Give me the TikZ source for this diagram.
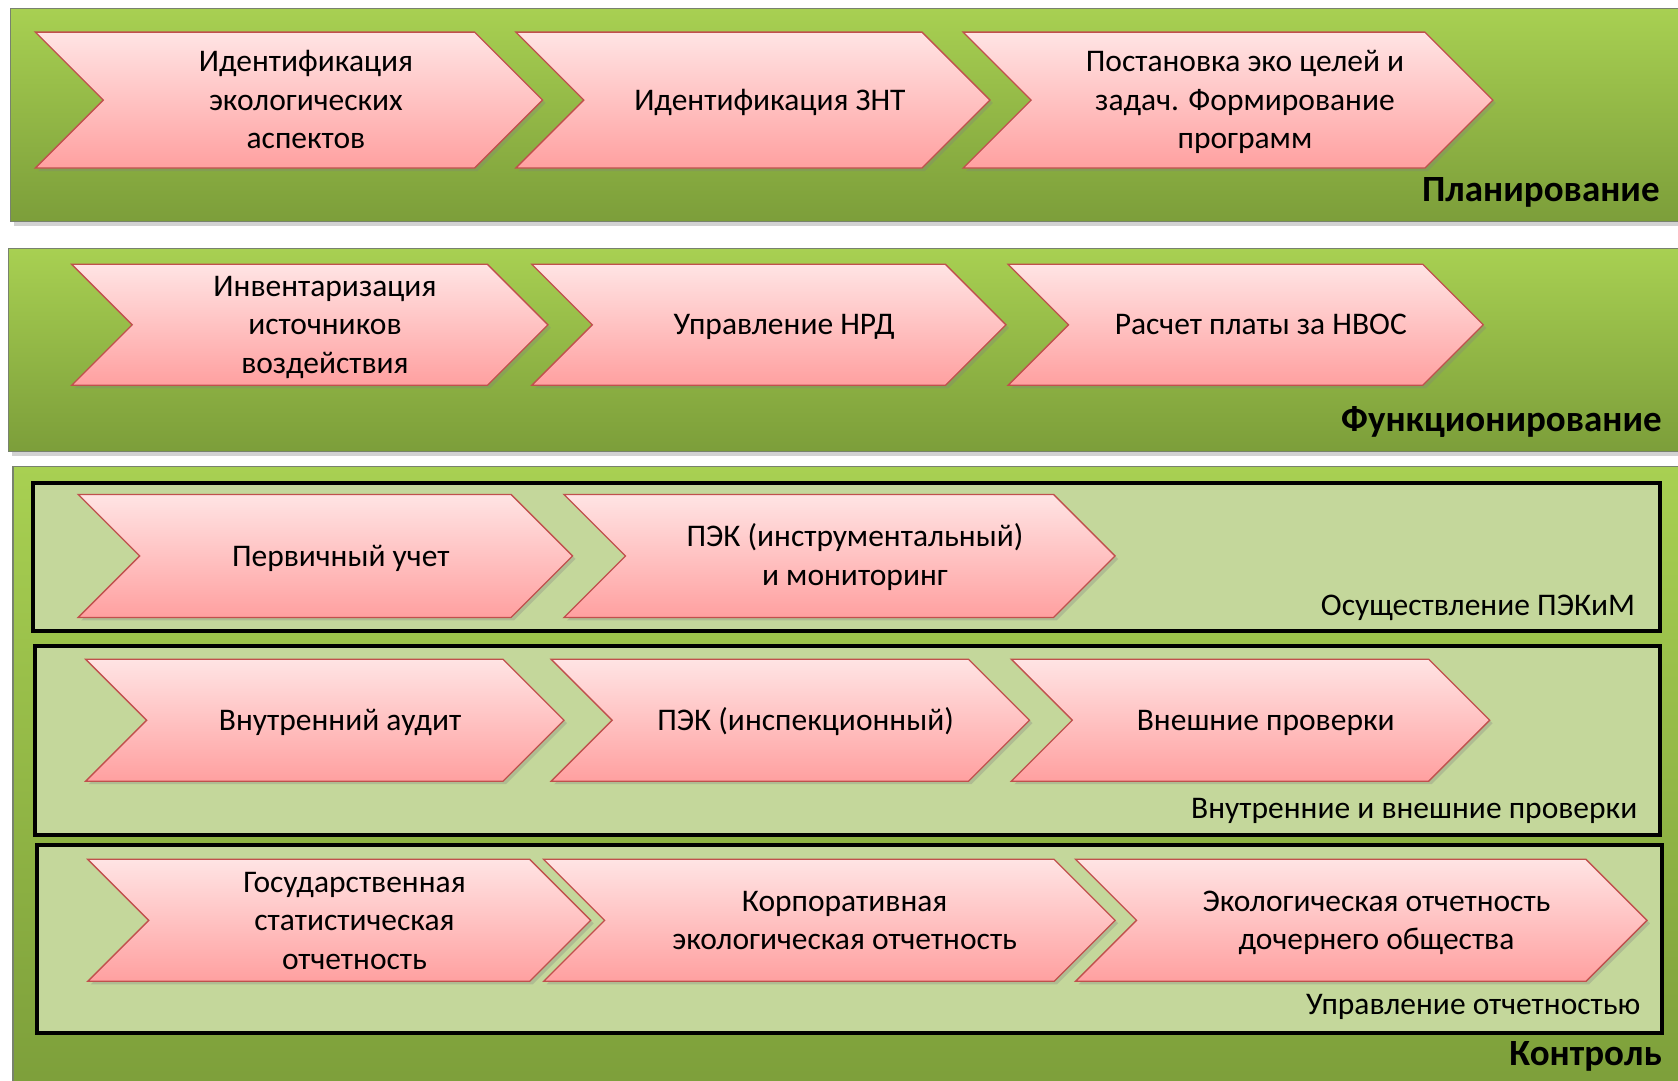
\documentclass[tikz,border=0pt]{standalone}
\usepackage{fontspec}
\setmainfont{Carlito}
\usetikzlibrary{shadows}
\definecolor{bandtop}{RGB}{168,208,82}
\definecolor{bandbot}{RGB}{124,158,58}
\definecolor{boxfill}{RGB}{196,215,155}
\definecolor{chevtop}{RGB}{255,228,228}
\definecolor{chevbot}{RGB}{255,160,160}
\definecolor{chevline}{RGB}{192,80,77}
\definecolor{bandline}{RGB}{120,130,110}
\newcommand\mystrut{\rule[-9.05pt]{0pt}{38.5pt}}
\tikzset{
  band/.style={draw=bandline, line width=1.5pt, top color=bandtop, bottom color=bandbot,
    drop shadow={shadow xshift=3pt, shadow yshift=-4pt, opacity=.35}},
  inbox/.style={draw=black, line width=4pt, fill=boxfill},
  chevshape/.style={draw=chevline, line width=1.3pt, top color=chevtop, bottom color=chevbot,
    drop shadow={shadow xshift=3pt, shadow yshift=-3pt, opacity=.3}},
  chevtext/.style={align=center, font=\fontsize{31.5}{38.5}\selectfont, inner sep=0pt},
  bandlabel/.style={font=\fontsize{37}{44}\selectfont\bfseries, anchor=base east, inner sep=0pt},
  boxlabel/.style={font=\fontsize{31.5}{38.5}\selectfont, anchor=base east, inner sep=0pt}
}
\newcommand\mychev[6]{%
  \pgfmathsetmacro\cc{(#4+#5)/2}%
  \pgfmathsetmacro\dd{(#5-#4)/2}%
  \pgfmathsetmacro\nx{#2+\dd}%
  \pgfmathsetmacro\sx{#3-\dd}%
  \pgfmathsetmacro\tx{(#2+#3)/2+\dd/4}%
  \path[chevshape] (#2,#4) -- (\sx,#4) -- (#3,\cc) -- (\sx,#5) -- (#2,#5) -- (\nx,\cc) -- cycle;
  \node[chevtext] (#1) at (\tx,\cc) {\mystrut#6\mystrut};
}
\begin{document}
\begin{tikzpicture}[x=1.0702pt,y=-1.0702pt]
\useasboundingbox (0,0) rectangle (1568,1010);
\clip (0,0) rectangle (1568,1010);
\fill[white] (0,0) rectangle (1568,1010);
% bands
\path[band] (10,8) rectangle (1585,207);
\path[band] (8,232) rectangle (1585,422);
\path[band] (12,436) rectangle (1585,1030);
% inner boxes
\path[inbox] (31,451) rectangle (1551,590);
\path[inbox] (33,604) rectangle (1551,780);
\path[inbox] (35,790) rectangle (1553,965);
% row 1
\mychev{p1}{33}{507}{30}{157}{Идентификация\\экологических\\аспектов}
\mychev{p2}{482}{925}{30}{157}{Идентификация ЗНТ}
\mychev{p3}{900}{1395}{30}{157}{Постановка эко целей и\\задач. Формирование\\программ}
\node[bandlabel] (lp) at (1551,188) {Планирование};
% row 2
\mychev{f1}{67}{512}{247}{360}{Инвентаризация\\источников\\воздействия}
\mychev{f2}{497}{940}{247}{360}{Управление НРД}
\mychev{f3}{942}{1386}{247}{360}{Расчет платы за НВОС}
\node[bandlabel] (lf) at (1553,403) {Функционирование};
% box A
\mychev{a1}{73}{535}{462}{577}{Первичный учет}
\mychev{a2}{527}{1042}{462}{577}{ПЭК (инструментальный)\\и мониторинг}
\node[boxlabel] (la) at (1528,575) {Осуществление ПЭКиМ};
% box B
\mychev{b1}{80}{527}{616}{730}{Внутренний аудит}
\mychev{b2}{515}{962}{616}{730}{ПЭК (инспекционный)}
\mychev{b3}{945}{1392}{616}{730}{Внешние проверки}
\node[boxlabel] (lb) at (1530,765) {Внутренние и внешние проверки};
% box C
\mychev{c1}{82}{552}{803}{917}{Государственная\\статистическая\\отчетность}
\mychev{c2}{508}{1042}{803}{917}{Корпоративная\\экологическая отчетность}
\mychev{c3}{1005}{1539}{803}{917}{Экологическая отчетность\\дочернего общества}
\node[boxlabel] (lc) at (1533,948) {Управление отчетностью};
\node[bandlabel] (lk) at (1553,996) {Контроль};
\end{tikzpicture}
\end{document}
